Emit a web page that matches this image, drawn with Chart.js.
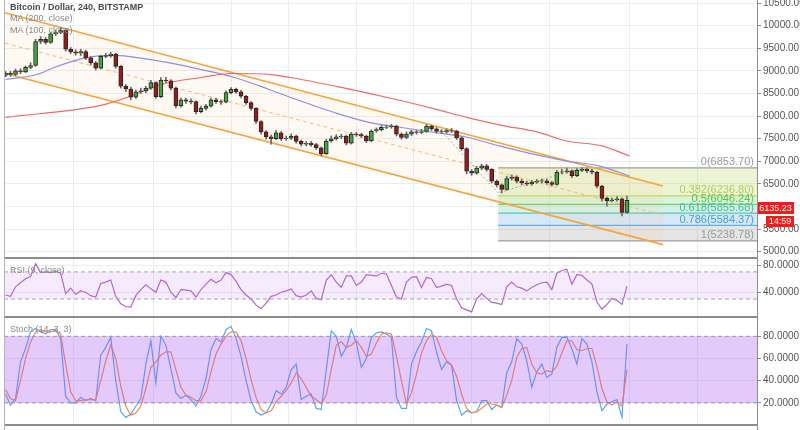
<!DOCTYPE html>
<html>
<head>
<meta charset="utf-8">
<script src="https://cdn.jsdelivr.net/npm/chart.js@4.4.1/dist/chart.umd.min.js"></script>
<style>
  body { margin: 0; width: 800px; height: 430px; background: #fff; overflow: hidden; position: relative;
         font-family: "Liberation Sans", Arial, sans-serif; }
  canvas { position: absolute; left: 0; }
  #main { top: 0; }
  #rsi { top: 259px; }
  #stoch { top: 318px; }
  .sep { position: absolute; left: 4px; width: 753px; height: 2px; background: #8c8c8c; }
  .vline { position: absolute; top: 0; width: 1px; height: 430px; }
  .lbl { position: absolute; left: 10px; font-size: 9px; color: #888; white-space: nowrap; line-height: 11px; }
</style>
</head>
<body>
<canvas id="main" width="800" height="257"></canvas>
<canvas id="rsi" width="800" height="57"></canvas>
<canvas id="stoch" width="800" height="106"></canvas>

<div class="sep" style="top:257px"></div>
<div class="sep" style="top:316px"></div>
<div class="sep" style="top:424px"></div>
<div class="vline" style="left:4px;background:#b5b5b5"></div>
<div class="vline" style="left:757px;background:#8c8c8c"></div>

<div class="lbl" style="top:2px;color:#4a4a4a;font-weight:bold">Bitcoin / Dollar, 240, BITSTAMP</div>
<div class="lbl" style="top:13px">MA (200, close)</div>
<div class="lbl" style="top:25px">MA (100, close)</div>
<div class="lbl" style="top:265px">RSI (9, close)</div>
<div class="lbl" style="top:324px">Stoch (14, 3, 3)</div>

<script>
// 4h candles, BTC/USD
const opens = [8900, 8950, 8920, 9000, 8980, 9080, 9120, 9650, 9700, 9630,
  9820, 9850, 9900, 9480, 9420, 9390, 9430, 9290, 9180, 9060,
  9320, 9340, 9370, 9100, 8660, 8600, 8420, 8540, 8560, 8620,
  8740, 8430, 8800, 8780, 8620, 8230, 8360, 8330, 8320, 8100,
  8170, 8220, 8360, 8320, 8310, 8520, 8590, 8540, 8440, 8300,
  8170, 7880, 7650, 7540, 7500, 7630, 7500, 7510, 7560, 7440,
  7380, 7400, 7370, 7300, 7170, 7450, 7500, 7540, 7560, 7400,
  7600, 7590, 7560, 7450, 7670, 7700, 7750, 7760, 7780, 7600,
  7530, 7600, 7650, 7640, 7660, 7780, 7720, 7660, 7650, 7680,
  7670, 7520, 7280, 6780, 6740, 6850, 6900, 6820, 6560, 6480,
  6380, 6620, 6650, 6560, 6520, 6500, 6540, 6560, 6570, 6530,
  6490, 6760, 6770, 6790, 6680, 6800, 6820, 6790, 6760, 6450,
  6180, 6130, 6150, 6170, 5870];
const closes = [8950, 8920, 9000, 8980, 9080, 9120, 9650, 9700, 9630, 9820,
  9850, 9900, 9480, 9420, 9390, 9430, 9290, 9180, 9060, 9320,
  9340, 9370, 9100, 8660, 8600, 8420, 8540, 8560, 8620, 8740,
  8430, 8800, 8780, 8620, 8230, 8360, 8330, 8320, 8100, 8170,
  8220, 8360, 8320, 8310, 8520, 8590, 8540, 8440, 8300, 8170,
  7880, 7650, 7540, 7500, 7630, 7500, 7510, 7560, 7440, 7380,
  7400, 7370, 7300, 7170, 7450, 7500, 7540, 7560, 7400, 7600,
  7590, 7560, 7450, 7670, 7700, 7750, 7760, 7780, 7600, 7530,
  7600, 7650, 7640, 7660, 7780, 7720, 7660, 7650, 7680, 7670,
  7520, 7280, 6780, 6740, 6850, 6900, 6820, 6560, 6480, 6380,
  6620, 6650, 6560, 6520, 6500, 6540, 6560, 6570, 6530, 6490,
  6760, 6770, 6790, 6680, 6800, 6820, 6790, 6760, 6450, 6180,
  6130, 6150, 6170, 5870, 6135.23];
const highs = [8990, 8990, 9040, 9050, 9110, 9180, 9700, 9760, 9740, 9860,
  9900, 9960, 9930, 9520, 9470, 9480, 9460, 9320, 9210, 9350,
  9390, 9410, 9390, 9120, 8700, 8640, 8580, 8620, 8660, 8790,
  8760, 8850, 8860, 8810, 8640, 8400, 8400, 8380, 8340, 8220,
  8260, 8400, 8400, 8360, 8560, 8630, 8620, 8570, 8460, 8320,
  8190, 7900, 7680, 7580, 7680, 7660, 7560, 7610, 7580, 7470,
  7440, 7440, 7400, 7320, 7490, 7560, 7590, 7600, 7580, 7640,
  7640, 7620, 7580, 7700, 7740, 7790, 7800, 7820, 7800, 7630,
  7650, 7690, 7690, 7710, 7820, 7800, 7750, 7700, 7720, 7730,
  7690, 7540, 7300, 6820, 6890, 6940, 6930, 6840, 6590, 6500,
  6670, 6700, 6680, 6600, 6560, 6580, 6600, 6610, 6600, 6560,
  6800, 6820, 6850, 6810, 6840, 6860, 6850, 6820, 6780, 6470,
  6210, 6190, 6220, 6190, 6230];
const lows = [8870, 8880, 8900, 8940, 8960, 9050, 9100, 9600, 9590, 9610,
  9780, 9820, 9440, 9380, 9350, 9340, 9250, 9130, 9020, 9040,
  9290, 9300, 9060, 8620, 8540, 8360, 8390, 8500, 8520, 8590,
  8390, 8410, 8740, 8580, 8180, 8200, 8280, 8270, 8050, 8070,
  8130, 8200, 8280, 8260, 8290, 8490, 8500, 8400, 8260, 8130,
  7840, 7600, 7490, 7380, 7480, 7460, 7460, 7480, 7400, 7340,
  7340, 7330, 7260, 7120, 7150, 7420, 7470, 7500, 7360, 7380,
  7550, 7520, 7410, 7430, 7640, 7670, 7720, 7730, 7560, 7490,
  7500, 7570, 7600, 7610, 7640, 7680, 7620, 7610, 7620, 7640,
  7480, 7240, 6720, 6690, 6710, 6810, 6780, 6520, 6430, 6300,
  6360, 6580, 6520, 6480, 6460, 6470, 6510, 6520, 6490, 6450,
  6470, 6720, 6740, 6640, 6660, 6770, 6750, 6720, 6410, 6120,
  6010, 6100, 6120, 5790, 5850];

// moving averages (candle index, value)
const ma200Idx = [0, 19, 25, 31, 39, 45, 53, 59, 67, 79, 86, 92, 99, 106, 112, 119, 124.5];
const ma200 = [7973, 8238, 8443, 8700, 8854, 8943, 8920, 8810, 8634, 8340, 8150, 7973, 7797, 7650, 7450, 7340, 7120];
const ma100Idx = [0, 6.3, 9.7, 14.5, 19.5, 22.5, 26.2, 32.5, 39.1, 45.7, 52.6, 59.1, 65.6, 72.5, 78.7, 85.3, 92.1, 98.7, 105.3, 112, 118.6, 124.5];
const ma100 = [8810, 8920, 9075, 9250, 9340, 9340, 9295, 9185, 9030, 8854, 8590, 8325, 8080, 7863, 7753, 7643, 7533, 7335, 7160, 7004, 6894, 6674];

// descending channel drawing
const channelIdx = [-0.1, 131.2];
const channelUpper = [10286, 6455];
const channelLower = [8943, 5157];
const channelMid = [9615, 5806];
const swingIdx = [86.7, 98.3, 114.5];
const swingPrice = [7700, 6300, 6840];

// fibonacci retracement
const fibStartIdx = 98.3;
const fibRatios = [0, 0.382, 0.5, 0.618, 0.786, 1];
const fibLevels = [6853.70, 6236.80, 6046.24, 5855.68, 5584.37, 5238.78];
const lastPrice = 6135.23;
const countdown = '14:59';

// indicators
const rsi = [36, 34, 48, 54, 60, 63, 82, 69, 70, 69,
  71, 68, 38, 46, 37, 42, 40, 35, 33, 53,
  55, 58, 34, 23, 19, 18, 35, 44, 51, 45,
  40, 58, 55, 40, 32, 44, 43, 42, 33, 44,
  52, 59, 54, 58, 69, 66, 56, 44, 36, 30,
  21, 16, 24, 34, 36, 40, 42, 45, 35, 33,
  36, 42, 31, 29, 58, 66, 55, 47, 64, 64,
  50, 55, 66, 65, 64, 68, 67, 50, 33, 30,
  55, 62, 63, 47, 62, 60, 47, 49, 52, 50,
  30, 17, 14, 11, 30, 38, 31, 25, 24, 22,
  48, 55, 48, 46, 42, 47, 51, 54, 55, 44,
  68, 72, 74, 52, 66, 65, 58, 52, 26, 15,
  22, 31, 28, 22, 49];
const stochK = [28, 18, 24, 57, 69, 84, 87, 84, 82, 86,
  86, 78, 26, 20, 20, 25, 22, 24, 22, 63,
  70, 79, 40, 12, 7, 10, 17, 24, 55, 76,
  38, 80, 72, 51, 29, 24, 27, 23, 17, 26,
  42, 68, 78, 75, 86, 89, 78, 62, 40, 22,
  12, 9, 11, 19, 31, 28, 34, 50, 55, 23,
  26, 28, 15, 14, 50, 85, 80, 62, 70, 86,
  74, 52, 60, 79, 83, 84, 82, 79, 25, 15,
  15, 55, 66, 75, 87, 85, 66, 50, 57, 54,
  22, 9, 13, 11, 12, 22, 22, 14, 18, 16,
  47, 57, 78, 73, 58, 34, 48, 55, 43, 46,
  70, 79, 79, 69, 55, 78, 73, 57, 30, 13,
  19, 21, 23, 7, 73];
const stochD = [32, 24, 22, 40, 60, 75, 84, 86, 84, 84,
  85, 82, 55, 30, 22, 22, 23, 23, 23, 40,
  58, 72, 60, 35, 17, 9, 11, 17, 33, 52,
  57, 63, 66, 66, 50, 34, 27, 25, 22, 22,
  30, 48, 64, 73, 80, 84, 84, 76, 60, 41,
  25, 14, 11, 13, 21, 26, 31, 38, 47, 42,
  34, 26, 23, 19, 27, 50, 72, 75, 70, 72,
  76, 70, 62, 64, 74, 82, 83, 82, 62, 40,
  19, 29, 46, 65, 76, 82, 79, 67, 58, 54,
  44, 28, 15, 11, 12, 15, 19, 19, 18, 16,
  27, 40, 61, 69, 70, 55, 47, 46, 49, 48,
  53, 65, 76, 76, 68, 67, 69, 69, 53, 33,
  21, 18, 21, 17, 50];

// axis ticks
const dayGrid = [13.5, 29.5, 45, 56.5, 70, 81.5, 93, 108.5, 124.5, 138];
const priceTicks = [5000, 5500, 6000, 6500, 7000, 7500, 8000, 8500, 9000, 9500, 10000, 10500];
const rsiTicks = [40, 80];
const stochTicks = [20, 40, 60, 80];

const FONT = '"Liberation Sans", Arial, sans-serif';
Chart.defaults.font.family = FONT;
Chart.defaults.animation = false;
Chart.defaults.events = [];
Chart.defaults.plugins.legend.display = false;
Chart.defaults.plugins.tooltip.enabled = false;

const X_MIN = -0.3, X_MAX = 149.94;

function xAxis() {
    return {
        type: 'linear', min: X_MIN, max: X_MAX, offset: false,
        ticks: { display: false },
        grid: { color: '#e9eef4', drawTicks: false, offset: false },
        border: { display: false },
        afterBuildTicks: s => { s.ticks = dayGrid.map(v => ({ value: v })); },
        afterFit: s => { s.height = 0; s.paddingLeft = 0; s.paddingRight = 0; }
    };
}
function yAxis(min, max, ticks, decimals, hide) {
    return {
        position: 'right', min: min, max: max,
        afterBuildTicks: s => { s.ticks = ticks.map(v => ({ value: v })); },
        afterFit: s => { s.width = 43; s.paddingTop = 0; s.paddingBottom = 0; },
        ticks: { color: '#555', font: { size: 10 }, padding: 2,
                 callback: v => (hide && hide(v)) ? '' : v.toFixed(decimals) },
        grid: { color: '#e9eef4', tickColor: '#8c8c8c', tickLength: 4 },
        border: { display: false }
    };
}
const pts = (xs, ys) => xs.map((x, i) => ({ x: x, y: ys[i] }));
const series = ys => ys.map((y, i) => ({ x: i, y: y }));
const flat = (x0, v) => [{ x: x0, y: v }, { x: 200, y: v }];

// fibonacci zones
const fibLine = ['#9e9e9e', '#c2d96b', '#6dd36d', '#5cc9ad', '#63aee6', '#9e9e9e'];
const fibFill = ['rgba(185,215,100,0.28)', 'rgba(110,210,100,0.25)', 'rgba(90,200,170,0.25)',
                 'rgba(100,170,230,0.27)', 'rgba(150,150,150,0.25)', 'transparent'];
const fibText = ['#9a9a9a', '#b3cc55', '#55c455', '#3fbc9c', '#44a2dd', '#9a9a9a'];

const datasets = fibLevels.map((lv, i) => ({
    type: 'line', data: flat(fibStartIdx, lv), borderColor: fibLine[i], borderWidth: 1.2,
    backgroundColor: fibFill[i], fill: i < 5 ? i + 1 : false, pointRadius: 0, order: 10
}));
datasets.push(
    { type: 'line', data: pts(channelIdx, channelUpper), borderColor: '#f7a43c', borderWidth: 1.6,
      backgroundColor: 'rgba(255,170,90,0.07)', fill: 7, pointRadius: 0, order: 8 },
    { type: 'line', data: pts(channelIdx, channelLower), borderColor: '#f7a43c', borderWidth: 1.6,
      fill: false, pointRadius: 0, order: 8 },
    { type: 'line', data: pts(channelIdx, channelMid), borderColor: '#f9b870', borderWidth: 1,
      borderDash: [4, 3], fill: false, pointRadius: 0, order: 7 },
    { type: 'line', data: pts(swingIdx, swingPrice), borderColor: '#a8a8a8', borderWidth: 1,
      borderDash: [2, 2], fill: false, pointRadius: 0, order: 6 },
    { type: 'line', data: pts(ma200Idx, ma200), borderColor: '#f26868', borderWidth: 1.2,
      cubicInterpolationMode: 'monotone', fill: false, pointRadius: 0, order: 5 },
    { type: 'line', data: pts(ma100Idx, ma100), borderColor: '#8f8fe0', borderWidth: 1.2,
      cubicInterpolationMode: 'monotone', fill: false, pointRadius: 0, order: 5 },
    { type: 'bar', data: closes.map((c, i) => ({ x: i, y: [lows[i], highs[i]] })),
      backgroundColor: '#6a6a6a', barThickness: 1, grouped: false, order: 2 },
    { type: 'bar', data: closes.map((c, i) => ({ x: i, y: [opens[i], c] })),
      backgroundColor: closes.map((c, i) => c >= opens[i] ? '#3ea83e' : '#9c1a1a'),
      borderColor: '#262626', borderWidth: 1, borderSkipped: false,
      barThickness: 4, grouped: false, order: 1 }
);

const overlays = {
    id: 'overlays',
    afterDatasetsDraw(chart) {
        const { ctx, chartArea, scales: { y } } = chart;
        ctx.save();
        ctx.font = '11px ' + FONT;
        ctx.textAlign = 'right';
        ctx.textBaseline = 'bottom';
        fibRatios.forEach((r, i) => {
            ctx.fillStyle = fibText[i];
            ctx.fillText(r + '(' + fibLevels[i].toFixed(2) + ')', chartArea.right - 3, y.getPixelForValue(fibLevels[i]));
        });
        ctx.restore();
    },
    afterDraw(chart) {
        const { ctx, scales: { y } } = chart;
        const py = Math.round(y.getPixelForValue(lastPrice)) + 8;
        ctx.save();
        ctx.font = '9px ' + FONT;
        ctx.textAlign = 'center';
        ctx.textBaseline = 'middle';
        ctx.fillStyle = '#f21b1b';
        ctx.fillRect(757, py - 6, 37, 12);
        ctx.fillRect(766, py + 8, 28, 11);
        ctx.fillStyle = '#fff';
        ctx.fillText(lastPrice.toFixed(2), 775.5, py + 0.5);
        ctx.fillText(countdown, 780, py + 14);
        ctx.restore();
    }
};

new Chart(document.getElementById('main'), {
    type: 'bar',
    data: { datasets: datasets },
    options: {
        responsive: false,
        layout: { padding: { left: 4, right: 0, top: 0, bottom: 0 } },
        scales: {
            x: xAxis(),
            // the last-price tag covers the nearest axis label
            y: yAxis(4883, 10569, priceTicks, 2, v => Math.abs(v - lastPrice) < 250)
        }
    },
    plugins: [overlays]
});

// RSI pane
new Chart(document.getElementById('rsi'), {
    type: 'line',
    data: {
        datasets: [
            { data: flat(X_MIN, 70), borderColor: '#a5a5a5', borderWidth: 1, borderDash: [4, 3],
              backgroundColor: 'rgba(190,130,245,0.16)', fill: 1, pointRadius: 0 },
            { data: flat(X_MIN, 30), borderColor: '#a5a5a5', borderWidth: 1, borderDash: [4, 3],
              fill: false, pointRadius: 0 },
            { data: series(rsi), borderColor: '#b061cf', borderWidth: 1.2, fill: false, pointRadius: 0 }
        ]
    },
    options: {
        responsive: false,
        layout: { padding: { left: 4, right: 0, top: 0, bottom: 0 } },
        scales: { x: xAxis(), y: yAxis(5, 89, rsiTicks, 4) }
    }
});

// Stochastic pane
new Chart(document.getElementById('stoch'), {
    type: 'line',
    data: {
        datasets: [
            { data: flat(X_MIN, 80), borderColor: '#9a9a9a', borderWidth: 1, borderDash: [4, 3],
              backgroundColor: 'rgba(170,90,240,0.32)', fill: 1, pointRadius: 0 },
            { data: flat(X_MIN, 20), borderColor: '#9a9a9a', borderWidth: 1, borderDash: [4, 3],
              fill: false, pointRadius: 0 },
            { data: series(stochD), borderColor: '#f58a4f', borderWidth: 1.2, fill: false, pointRadius: 0 },
            { data: series(stochK), borderColor: '#55a8f5', borderWidth: 1.2, fill: false, pointRadius: 0 }
        ]
    },
    options: {
        responsive: false,
        layout: { padding: { left: 4, right: 0, top: 0, bottom: 0 } },
        scales: { x: xAxis(), y: yAxis(1, 96.5, stochTicks, 4) }
    }
});
</script>
</body>
</html>
